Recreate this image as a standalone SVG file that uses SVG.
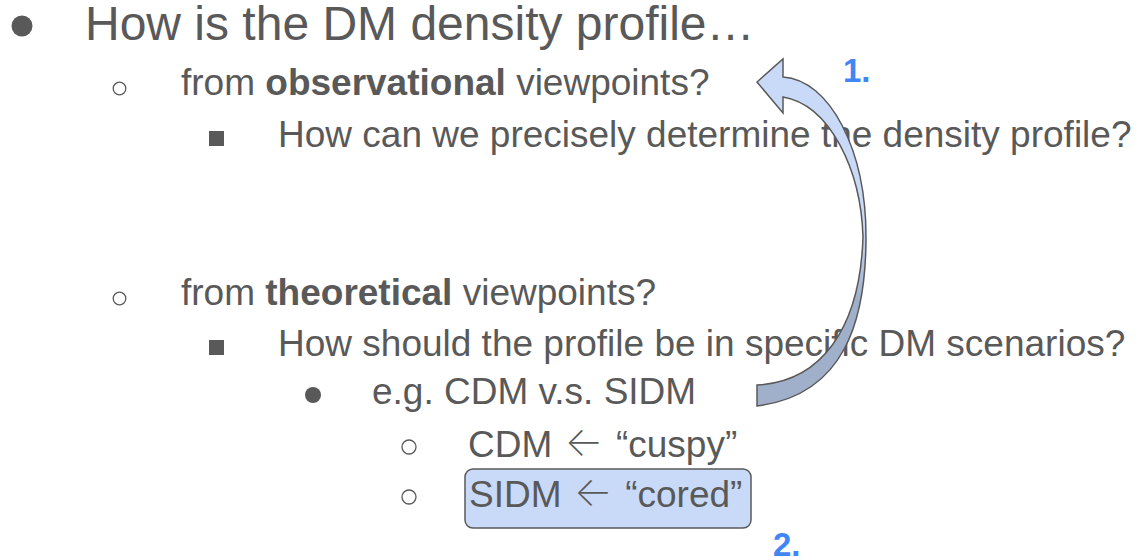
<svg xmlns="http://www.w3.org/2000/svg" width="1138" height="560" viewBox="0 0 1138 560">
  <style>
    .t { font-family: "Liberation Sans", Arial, sans-serif; fill: #595959; font-size: 37px; }
    .big { font-size: 48px; }
    .b { font-weight: bold; }
    .arr { font-family: Inter, "DejaVu Sans", sans-serif; font-weight: 200; font-size: 41px; }
    .num { font-family: "Liberation Sans", Arial, sans-serif; font-weight: bold; font-size: 33px; fill: #4285f4; }
    .hollow { fill: none; stroke: #595959; stroke-width: 1.3; }
    .solid { fill: #595959; }
  </style>
  <defs>
    <linearGradient id="arrowShade" gradientUnits="userSpaceOnUse" x1="0" y1="225" x2="0" y2="300">
      <stop offset="0" stop-color="#c9daf8"/>
      <stop offset="1" stop-color="#a0b0ca"/>
    </linearGradient>
  </defs>

  <rect width="1138" height="560" fill="#ffffff"/>

  <!-- level 1 -->
  <g id="q-main">
    <circle class="solid" cx="22" cy="26" r="10.5"/>
    <text class="t big" x="85" y="40">How is the DM density profile…</text>
  </g>

  <!-- observational branch -->
  <g id="q-observational">
    <circle class="hollow" cx="119.5" cy="88.5" r="6.3"/>
    <text class="t" x="181" y="95">from <tspan class="b">observational</tspan> viewpoints?</text>
  </g>
  <g id="q-determine">
    <rect class="solid" x="209" y="131" width="15" height="15"/>
    <text class="t" x="278" y="147">How can we precisely determine the density profile?</text>
  </g>

  <!-- theoretical branch -->
  <g id="q-theoretical">
    <circle class="hollow" cx="119.5" cy="298.5" r="6.3"/>
    <text class="t" x="181" y="305">from <tspan class="b">theoretical</tspan> viewpoints?</text>
  </g>
  <g id="q-scenarios">
    <rect class="solid" x="209" y="340" width="15" height="15"/>
    <text class="t" x="278" y="356">How should the profile be in specific DM scenarios?</text>
  </g>
  <g id="eg">
    <circle class="solid" cx="313" cy="395" r="8"/>
    <text class="t" x="372" y="404">e.g. CDM v.s. SIDM</text>
  </g>
  <g id="cdm">
    <circle class="hollow" cx="409" cy="447" r="7"/>
    <text class="t" x="468" y="457">CDM <tspan class="arr" dx="2" dy="-1">←</tspan><tspan dx="2" dy="1"> “cuspy”</tspan></text>
  </g>
  <g id="sidm">
    <circle class="hollow" cx="409" cy="497" r="7"/>
    <rect x="465" y="469" width="286" height="59" rx="8" fill="#c9daf8" stroke="#595959" stroke-width="1.5"/>
    <text class="t" x="469" y="507">SIDM <tspan class="arr" dx="2" dy="-1">←</tspan><tspan dx="2" dy="1"> “cored”</tspan></text>
  </g>

  <!-- curved arrow from the SIDM line back up to the observational question -->
  <g id="connectors">
    <path d="M783,77 C830,80 866,150 866,237 C866,320 845,395 757,406 L757,385 C820,382 860,330 863,237 C861,170 830,105 783,97 L783,113 L757,82 L783,59 Z"
          fill="url(#arrowShade)" stroke="#595959" stroke-width="1.5" stroke-linejoin="miter"/>
  </g>

  <g id="label-1"><text class="num" x="843" y="82">1.</text></g>
  <g id="label-2"><text class="num" x="773" y="556">2.</text></g>
</svg>
